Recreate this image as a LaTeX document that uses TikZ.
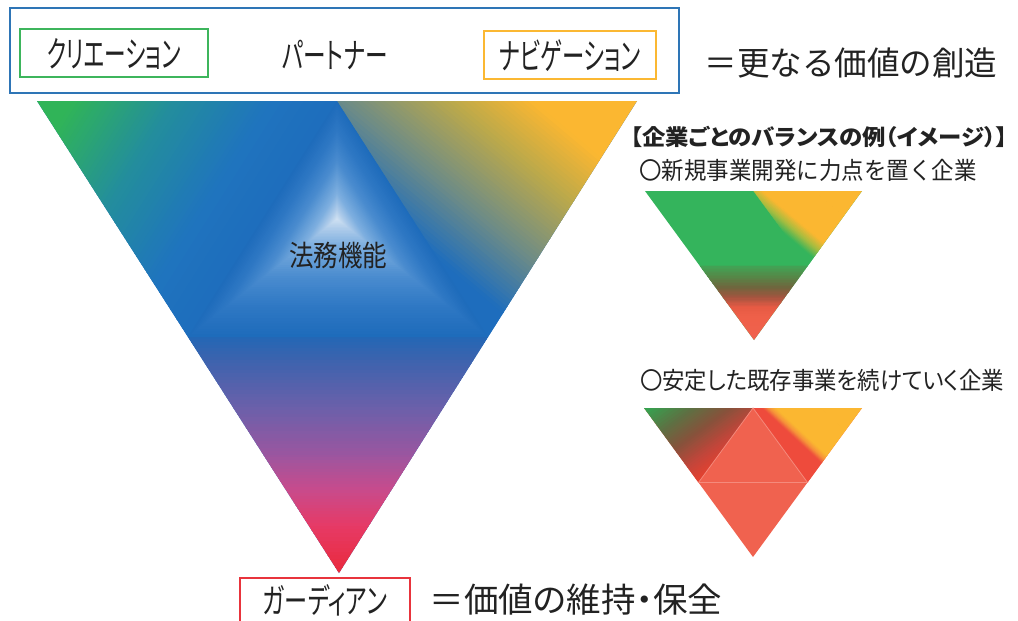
\documentclass[tikz,border=0pt]{standalone}
\usepackage{fontspec}
\usepackage{graphicx}
\usetikzlibrary{calc}
\newfontfamily\jp{Noto Sans CJK JP}
\newfontfamily\jpp{Noto Sans CJK JP}[RawFeature=+palt]
\definecolor{txt}{HTML}{222222}
\definecolor{bbox}{HTML}{2E75B6}
\definecolor{gbox}{HTML}{3DB55C}
\definecolor{obox}{HTML}{FBB832}
\definecolor{rbox}{HTML}{E8343C}
\definecolor{cgreen}{HTML}{30B458}
\definecolor{cteal}{HTML}{238E9C}
\definecolor{cblue}{HTML}{1E6DBD}
\definecolor{cblueb}{HTML}{1F74BE}
\definecolor{corange}{HTML}{FBB731}
\definecolor{cgray}{HTML}{6E8C86}
\definecolor{colive}{HTML}{B9A84C}
\definecolor{b0}{HTML}{2267B5}
\definecolor{b1}{HTML}{3C63AE}
\definecolor{b2}{HTML}{6A60AA}
\definecolor{b3}{HTML}{9A56A0}
\definecolor{b4}{HTML}{C84B8C}
\definecolor{b5}{HTML}{E63A66}
\definecolor{b6}{HTML}{EA2838}
\definecolor{i0}{HTML}{D2E3F3}
\definecolor{i1}{HTML}{B2CEEB}
\definecolor{i2}{HTML}{80B0E0}
\definecolor{i3}{HTML}{4A8CCF}
\definecolor{i4}{HTML}{2F78C4}
\definecolor{i5}{HTML}{1E6CBB}
\definecolor{sgreen}{HTML}{34B45C}
\definecolor{sygreen}{HTML}{A6BD40}
\definecolor{s1}{HTML}{3FA757}
\definecolor{s2}{HTML}{548948}
\definecolor{s3}{HTML}{70653D}
\definecolor{s4}{HTML}{A2553F}
\definecolor{s5}{HTML}{E65A44}
\definecolor{s6}{HTML}{EF6049}
\definecolor{salmon}{HTML}{F0624F}
\definecolor{tred}{HTML}{E8412E}
\definecolor{t2}{HTML}{C4453A}
\definecolor{t3}{HTML}{86523B}
\definecolor{t4}{HTML}{5C7243}
\definecolor{t5}{HTML}{2FAB52}
\definecolor{rred}{HTML}{EE4B3C}
\definecolor{rmid}{HTML}{F6923A}
\definecolor{edgel}{HTML}{F58A7C}

\newcommand\fitw[2]{\resizebox{#1}{\height}{#2}}
% linear gradient segment: P0 P1 ta tb ca cb n
\newcommand\gseg[7]{%
  \foreach \k in {1,...,#7}{%
    \pgfmathsetmacro\ts{#3+(#4-#3)*(\k-1)/#7}%
    \pgfmathsetmacro\te{#3+(#4-#3)*\k/#7+0.006}%
    \pgfmathsetmacro\pc{100*(\k-0.5)/#7}%
    \fill[#6!\pc!#5]
      ($(#1)!\ts!(#2)!400pt!90:(gfar)$) -- ($(#1)!\ts!(#2)!400pt!-90:(gfar)$)
      -- ($(#1)!\te!(#2)!400pt!-90:(gfar)$) -- ($(#1)!\te!(#2)!400pt!90:(gfar)$) -- cycle;
  }}
\newcommand\lgrad[3]{%
  \coordinate (gfar) at ($(#1)!6!(#2)$);
  \foreach \ta/\tb/\ca/\cb/\nn in {#3}{\gseg{#1}{#2}{\ta}{\tb}{\ca}{\cb}{\nn}}}
% contour (path) gradient about C: ta tb ca cb n  (drawn from tb down to ta)
\newcommand\cseg[5]{%
  \foreach \k in {0,...,#5}{%
    \pgfmathsetmacro\tt{#2-(#2-#1)*\k/(#5+1)}%
    \pgfmathsetmacro\pc{100*(\tt-#1)/(#2-#1)}%
    \fill[#4!\pc!#3] ($(C)!\tt!(A)$) -- ($(C)!\tt!(L)$) -- ($(C)!\tt!(R)$) -- cycle;
  }}

\tikzset{
  lbl/.style={inner sep=0pt, text=txt, anchor=center},
  frame/.style={draw=#1, line width=2pt, inner sep=0pt},
}

\begin{document}
\begin{tikzpicture}[x=1pt, y=-1pt]
\useasboundingbox (0,0) rectangle (1018,621);

% ---------- main triangle ----------
\coordinate (TL) at (37,101);
\coordinate (TR) at (637,101);
\coordinate (B) at (339,573);
\coordinate (A) at (337,101);
\coordinate (L) at (188,337);
\coordinate (R) at (488,337);
\coordinate (C) at (337,219);

\fill[cblue] (TL) -- (TR) -- (B) -- cycle;

\begin{scope}
  \clip (L) -- (R) -- (B) -- cycle;
  \coordinate (bp0) at (338,336);
  \coordinate (bp1) at (338,573);
  \lgrad{bp0}{bp1}{0/0.1/b0/b1/8, 0.1/0.3/b1/b2/14, 0.3/0.5/b2/b3/14, 0.5/0.65/b3/b4/12, 0.65/0.8/b4/b5/12, 0.8/1.02/b5/b6/14}
\end{scope}

\begin{scope}
  \clip (TL) -- (A) -- (L) -- cycle;
  \coordinate (lp0) at ($(A)!(TL)!(L)$);
  \lgrad{lp0}{TL}{0/0.22/cblue/cblueb/6, 0.22/0.55/cblueb/cteal/20, 0.55/0.88/cteal/cgreen/20, 0.88/1.02/cgreen/cgreen/2}
\end{scope}

\begin{scope}
  \clip (A) -- (TR) -- (R) -- cycle;
  \coordinate (rp1) at (665.8,125.2);
  \lgrad{R}{rp1}{0/0.1/cblue/cblue/2, 0.1/0.32/cblue/cgray/16, 0.32/0.56/cgray/colive/18, 0.56/0.76/colive/corange/14, 0.76/1.02/corange/corange/2}
\end{scope}

% inner pyramid
\cseg{0.75}{1}{i4}{i5}{10}
\cseg{0.5}{0.75}{i3}{i4}{12}
\cseg{0.22}{0.5}{i2}{i3}{14}
\cseg{0.08}{0.22}{i1}{i2}{10}
\cseg{0}{0.08}{i0}{i1}{6}

\node[lbl] (legal) at (338,255) {\fitw{98pt}{\jp\fontsize{29}{29}\selectfont 法務機能}};

% ---------- top box ----------
\node[frame=bbox, minimum width=669pt, minimum height=85pt] (topbox) at (344.5,50.5) {};
\node[frame=gbox, minimum width=188pt, minimum height=48pt] (crebox) at (114,53) {};
\node[frame=obox, minimum width=172pt, minimum height=48pt] (navbox) at (570,55) {};
\node[lbl] (cre) at (114,54) {\fitw{134pt}{\jpp\fontsize{36}{36}\selectfont クリエーション}};
\node[lbl] (par) at (335,55) {\fitw{105pt}{\jpp\fontsize{35}{35}\selectfont パートナー}};
\node[lbl] (nav) at (570,56) {\fitw{142pt}{\jpp\fontsize{36}{36}\selectfont ナビゲーション}};
\node[lbl] (create) at (851,63) {\fitw{293pt}{\jp\fontsize{33}{33}\selectfont ＝更なる価値の創造}};

% ---------- bottom ----------
\node[frame=rbox, minimum width=170pt, minimum height=54pt] (guabox) at (325,605) {};
\node[lbl] (gua) at (325,600) {\fitw{124pt}{\jpp\fontsize{34}{34}\selectfont ガーディアン}};
\node[lbl] (keep) at (576,600) {\fitw{292pt}{\jpp\fontsize{34}{34}\selectfont ＝価値の維持・保全}};

% ---------- right side ----------
\node[lbl] (title) at (819,137) {\fitw{377pt}{\jpp\bfseries\fontsize{22}{22}\selectfont 【企業ごとのバランスの例（イメージ）】}};
\node[lbl] (ex1) at (808,170) {\fitw{337pt}{\jp\fontsize{24}{24}\selectfont 〇新規事業開発に力点を置く企業}};
\node[lbl] (ex2) at (822,380) {\fitw{364pt}{\jpp\fontsize{24}{24}\selectfont 〇安定した既存事業を続けていく企業}};

% small triangle 1
\begin{scope}
  \coordinate (aTL) at (645,191);
  \coordinate (aTR) at (862,191);
  \coordinate (aB) at (754,340);
  \coordinate (aA) at (753.5,191);
  \coordinate (aL) at (699.5,265.5);
  \coordinate (aR) at (808,265.5);
  \fill[sgreen] (aTL) -- (aTR) -- (aB) -- cycle;
  \begin{scope}
    \clip (aA) -- (aTR) -- (aR) -- cycle;
    \coordinate (ar1) at (867.1,195.1);
    \lgrad{aR}{ar1}{0/0.1/sgreen/sgreen/2, 0.1/0.2/sgreen/sygreen/8, 0.2/0.3/sygreen/corange/8, 0.3/1.02/corange/corange/2}
  \end{scope}
  \begin{scope}
    \clip (aL) -- (aR) -- (aB) -- cycle;
    \coordinate (ab0) at (754,265);
    \coordinate (ab1) at (754,340);
    \lgrad{ab0}{ab1}{0/0.15/s1/s2/8, 0.15/0.3/s2/s3/8, 0.3/0.43/s3/s4/8, 0.43/0.56/s4/s5/8, 0.56/0.7/s5/s6/6, 0.7/1.02/s6/salmon/6}
  \end{scope}
\end{scope}

% small triangle 2
\begin{scope}
  \coordinate (bTL) at (644,408);
  \coordinate (bTR) at (862,408);
  \coordinate (bB) at (753,557);
  \coordinate (bA) at (753,408);
  \coordinate (bL) at (698.5,482.5);
  \coordinate (bR) at (807.5,482.5);
  \fill[salmon] (bTL) -- (bTR) -- (bB) -- cycle;
  \begin{scope}
    \clip (bTL) -- (bA) -- (bL) -- cycle;
    \coordinate (bl1) at (643.8,408.2);
    \lgrad{bL}{bl1}{0/0.2/tred/t2/8, 0.2/0.45/t2/t3/10, 0.45/0.7/t3/t4/10, 0.7/1.02/t4/t5/10}
  \end{scope}
  \begin{scope}
    \clip (bA) -- (bTR) -- (bR) -- cycle;
    \coordinate (br1) at (869.9,415.2);
    \lgrad{bR}{br1}{0/0.26/rred/rred/2, 0.26/0.31/rred/rmid/5, 0.31/0.36/rmid/corange/5, 0.36/1.02/corange/corange/2}
  \end{scope}
  \draw[edgel, line width=0.8pt] (bA) -- (bL) -- (bR) -- cycle;
\end{scope}
\end{tikzpicture}
\end{document}
